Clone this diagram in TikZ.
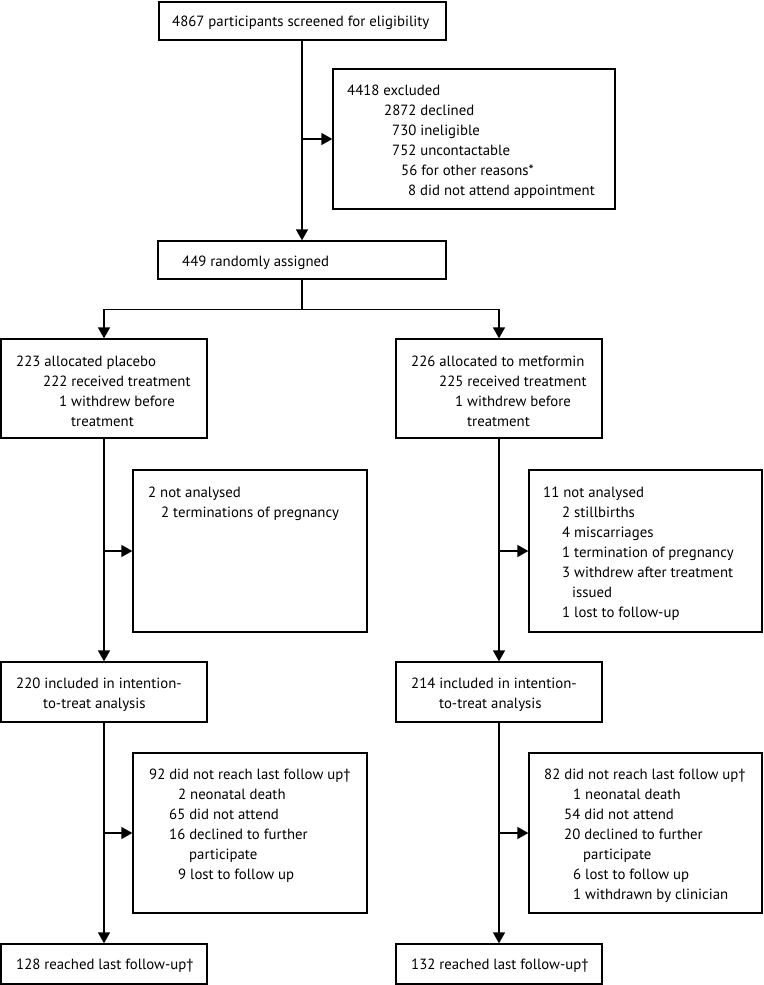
\documentclass[tikz,border=0pt]{standalone}
\usepackage{fontspec}
\setmainfont{PT Sans}
\usetikzlibrary{arrows.meta}
\tikzset{
  box/.style={draw=black, line width=1.3pt, inner sep=0pt, fill=white},
  txt/.style={anchor=base west, inner sep=0pt, font=\fontsize{14.8}{20}\selectfont},
  arr/.style={line width=1.3pt, -{Triangle[width=12pt,length=11pt]}},
  ln/.style={line width=1.3pt}
}
\newcommand{\mybox}[5]{% name, x1, y1, x2, y2
  \node[box, minimum width={#4-#2}, minimum height={#5-#3}] (#1) at ({(#2+#4)/2},{(#3+#5)/2}) {};}
\newcommand{\tline}[4]{\node[txt] (#1) at (#2,#3) {#4};}
\begin{document}
\begin{tikzpicture}[x=1pt,y=-1pt]
\useasboundingbox (0,0) rectangle (763,985);
% boxes
\mybox{screen}{159}{2}{446}{40}
\mybox{excl}{333}{69}{615}{209}
\mybox{rand}{158}{241}{446}{279}
\mybox{plac}{1}{339}{207}{438}
\mybox{met}{396}{339}{602}{438}
\mybox{naA}{133}{470}{367}{632}
\mybox{naB}{529}{470}{762}{632}
\mybox{ittA}{1}{662}{207}{722}
\mybox{ittB}{396}{662}{602}{722}
\mybox{fuA}{133}{753}{367}{913}
\mybox{fuB}{529}{753}{762}{913}
\mybox{finA}{1}{944}{207}{984}
\mybox{finB}{396}{944}{602}{984}
% texts
\tline{t0}{172}{27}{4867 participants screened for eligibility}
\tline{e1}{347}{95}{4418 excluded}
\tline{e2}{384}{115}{2872 declined}
\tline{e3}{392}{135}{730 ineligible}
\tline{e4}{392}{155}{752 uncontactable}
\tline{e5}{401}{175}{56 for other reasons*}
\tline{e6}{408}{195}{8 did not attend appointment}
\tline{r1}{182}{266}{449 randomly assigned}
\tline{p1}{16}{366}{223 allocated placebo}
\tline{p2}{43}{386}{222 received treatment}
\tline{p3}{59}{406}{1 withdrew before}
\tline{p4}{71}{426}{treatment}
\tline{m1}{411}{366}{226 allocated to metformin}
\tline{m2}{439}{386}{225 received treatment}
\tline{m3}{455}{406}{1 withdrew before}
\tline{m4}{467}{426}{treatment}
\tline{a1}{148}{497}{2 not analysed}
\tline{a2}{161}{517}{2 terminations of pregnancy}
\tline{b1}{543}{497}{11 not analysed}
\tline{b2}{562}{517}{2 stillbirths}
\tline{b3}{562}{537}{4 miscarriages}
\tline{b4}{562}{557}{1 termination of pregnancy}
\tline{b5}{562}{577}{3 withdrew after treatment}
\tline{b6}{572}{597}{issued}
\tline{b7}{562}{617}{1 lost to follow-up}
\tline{i1}{16}{688}{220 included in intention-}
\tline{i2}{43}{708}{to-treat analysis}
\tline{j1}{411}{688}{214 included in intention-}
\tline{j2}{439}{708}{to-treat analysis}
\tline{f1}{149}{779}{92 did not reach last follow up\dag}
\tline{f2}{178}{799}{2 neonatal death}
\tline{f3}{169}{819}{65 did not attend}
\tline{f4}{169}{839}{16 declined to further}
\tline{f5}{189}{859}{participate}
\tline{f6}{178}{879}{9 lost to follow up}
\tline{g1}{544}{779}{82 did not reach last follow up\dag}
\tline{g2}{573}{799}{1 neonatal death}
\tline{g3}{564}{819}{54 did not attend}
\tline{g4}{564}{839}{20 declined to further}
\tline{g5}{583}{859}{participate}
\tline{g6}{573}{879}{6 lost to follow up}
\tline{g7}{573}{899}{1 withdrawn by clinician}
\tline{k1}{16}{969}{128 reached last follow-up\dag}
\tline{k2}{411}{969}{132 reached last follow-up\dag}
% connectors
\draw[arr] (rand.north |- screen.south) -- (rand.north);
\draw[arr] (rand.north |- excl.west) -- (excl.west);
\draw[arr] (rand.south) -- ++(0,30) -| (plac.north);
\draw[arr] (rand.south) -- ++(0,30) -| (met.north);
\draw[arr] (plac.south) -- (ittA.north);
\draw[arr] (plac.south |- naA.west) -- (naA.west);
\draw[arr] (met.south) -- (ittB.north);
\draw[arr] (met.south |- naB.west) -- (naB.west);
\draw[arr] (ittA.south) -- (finA.north);
\draw[arr] (ittA.south |- fuA.west) -- (fuA.west);
\draw[arr] (ittB.south) -- (finB.north);
\draw[arr] (ittB.south |- fuB.west) -- (fuB.west);
\end{tikzpicture}
\end{document}
